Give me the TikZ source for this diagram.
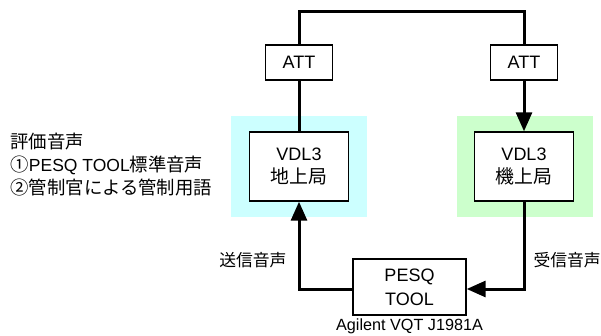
\documentclass[tikz,border=0pt]{standalone}
\usepackage{fontspec}
\setmainfont{Liberation Sans}
\newfontfamily\jp[Scale=1.05]{Noto Sans CJK JP}
\usepackage{xcolor}
\usetikzlibrary{arrows.meta, positioning}
\definecolor{gndbg}{HTML}{CCFFFF}
\definecolor{airbg}{HTML}{CCFFCC}
\tikzset{
  x=1pt, y=-1pt, % one unit is one pixel, y grows downwards
  every node/.style={font=\fontsize{18}{23}\selectfont},
  main/.style={draw, rectangle, line width=1.4pt, fill=white, align=center,
      inner sep=0pt}, % boxes for the equipment
  link/.style={line width=3pt}, % audio / radio lines
  tip/.style={-{Triangle[length=19pt,width=16pt]}},
}

\begin{document}
\begin{tikzpicture}
    \useasboundingbox (0,0) rectangle (601,336);
    % station backgrounds
    \fill[gndbg] (231,116) rectangle (367,217);
    \fill[airbg] (457,116) rectangle (593,217);

    \node[main, minimum width=99pt, minimum height=69pt] (gnd) at (299,166.5) {VDL3\\{\jp 地上局}};
    \node[main, minimum width=99pt, minimum height=69pt] (air) at (524,166.5) {VDL3\\{\jp 機上局}};
    \node[main, minimum width=67pt, minimum height=35pt] (attg) at (299,62.5) {ATT};
    \node[main, minimum width=67pt, minimum height=35pt] (atta) at (524,62.5) {ATT};
    \node[main, minimum width=113pt, minimum height=56pt] (pesq) at (409.5,287) {PESQ\\[1pt]TOOL};
    \node (model) at (409.5,330) [anchor=base, font=\fontsize{16.2}{19}\selectfont] {Agilent VQT J1981A};

    \node[anchor=east, font=\fontsize{16}{20}\selectfont] (send) at (290,260) {\jp 送信音声};
    \node[anchor=west, font=\fontsize{16}{20}\selectfont] (recv) at (530,260) {\jp 受信音声};
    \node[anchor=west, align=left, font=\fontsize{17.5}{23}\selectfont] (eval) at (7,165)
      {{\jp 評価音声}\\{\jp ①}PESQ TOOL{\jp 標準音声}\\{\jp ②管制官による管制用語}};

    \coordinate (topl) at (299,12);
    \coordinate (topr) at (524,12);

    \draw[link] (attg.north) -- (topl) -- (topr) -- (atta.north);
    \draw[link] (attg.south) -- (gnd.north);
    \draw[link, tip] (atta.south) -- (air.north);
    \draw[link, tip] (air.south) |- ([yshift=-2pt]pesq.east);
    \draw[link, tip] ([yshift=-2pt]pesq.west) -| (gnd.south);

  \end{tikzpicture}
\end{document}
